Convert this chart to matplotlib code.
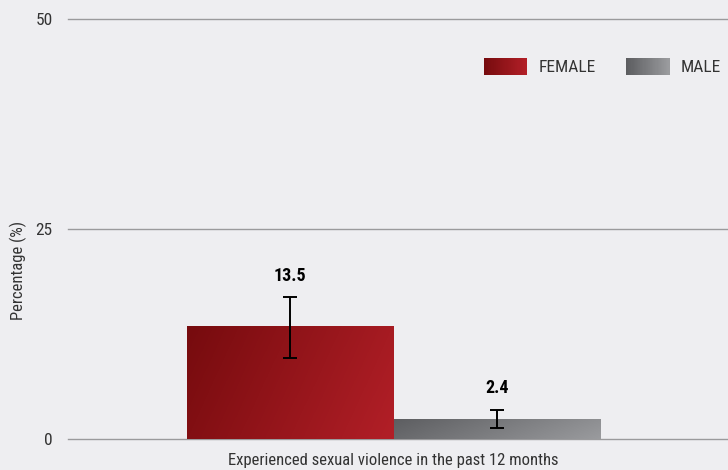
import numpy as np
import matplotlib
matplotlib.use("Agg")
import matplotlib.pyplot as plt
from matplotlib.patches import Rectangle
from matplotlib.colors import LinearSegmentedColormap

plt.rcParams['font.family'] = ['Roboto Condensed', 'DejaVu Sans']
plt.rcParams['font.weight'] = 400

categories = ["Experienced sexual violence in the past 12 months"]
series = ["FEMALE", "MALE"]
values = [13.5, 2.4]
err_low = [9.7, 1.3]
err_high = [16.9, 3.5]
yticks = [0, 25, 50]

BG = "#eeeef1"
TXT = "#333333"
female_cmap = LinearSegmentedColormap.from_list("f", ["#760b0e", "#b21f27"])
male_cmap = LinearSegmentedColormap.from_list("m", ["#5c5d60", "#9a9b9e"])
cmaps = [female_cmap, male_cmap]

fig = plt.figure(figsize=(7.28, 4.70), dpi=100, facecolor=BG)
ax = fig.add_axes([68/728, 31/470, 660/728, 420/470], facecolor=BG)

width = 0.35
x0 = np.arange(len(categories))
offsets = [-width/2, width/2]

for i, (name, v, lo, hi) in enumerate(zip(series, values, err_low, err_high)):
    xc = x0[0] + offsets[i]
    bars = ax.bar(xc, v, width=width, color='none', edgecolor='none', zorder=2)
    b = bars[0]
    bx, by = b.get_x(), b.get_y()
    bw, bh = b.get_width(), b.get_height()
    gx = np.linspace(0, 1, 200)
    gy = np.linspace(0, 1, 100)
    GX, GY = np.meshgrid(gx, gy)
    grad = 0.8 * GX + 0.2 * GY
    im = ax.imshow(grad, cmap=cmaps[i], extent=[bx, bx + bw, by, by + bh],
                   aspect='auto', origin='upper', vmin=0, vmax=1, zorder=2)
    im.set_clip_path(b)
    ax.errorbar(xc, v, yerr=[[v - lo], [hi - v]], fmt='none', ecolor='black',
                elinewidth=1.4, capsize=5, capthick=1.4, zorder=3)
    ax.annotate(f"{v}", xy=(xc, hi), xytext=(0, 9), textcoords='offset points',
                ha='center', va='bottom', fontsize=13, fontweight='bold', color='black')

ax.set_xlim(-0.552, 0.567)
ax.set_ylim(0, 50)

for s in ax.spines.values():
    s.set_visible(False)
ax.set_yticks(yticks)
ax.set_yticklabels([str(t) for t in yticks])
ax.yaxis.grid(True, color='#9a9a9c', linewidth=1.0, zorder=0)
for gl in ax.get_ygridlines():
    gl.set_clip_on(False)
ax.set_axisbelow(True)
ax.tick_params(axis='y', length=0, pad=11, labelsize=12.5, labelcolor=TXT)
ax.set_xticks(x0)
ax.set_xticklabels(categories)
ax.tick_params(axis='x', length=0, pad=10, labelsize=12, labelcolor=TXT)

fig.text(18/728, 1 - 270/470, "Percentage (%)", rotation=90, ha='center', va='center',
         fontsize=12, color=TXT)

class GradHandler:
    def __init__(self, cmap):
        self.cmap = cmap
    def legend_artist(self, legend, orig_handle, fontsize, handlebox):
        xd, yd = -handlebox.xdescent, -handlebox.ydescent
        w, h = handlebox.width, handlebox.height
        n = 40
        r = None
        for k in range(n):
            r = Rectangle((xd + w * k / n, yd), w / n * 1.05, h,
                          facecolor=self.cmap(k / (n - 1)), edgecolor='none',
                          transform=handlebox.get_transform())
            handlebox.add_artist(r)
        return r

handles = [Rectangle((0, 0), 1, 1) for _ in series]
h0, h1 = handles
leg = ax.legend(handles, series, handler_map={h0: GradHandler(female_cmap), h1: GradHandler(male_cmap)},
                loc='upper right', bbox_to_anchor=((721 - 68) / 660, 1 - 39/420), ncol=2, frameon=False,
                fontsize=12.5, handlelength=2.5, handleheight=1.1, handletextpad=0.65,
                columnspacing=1.75, labelcolor=TXT, borderaxespad=0, borderpad=0)

fig.savefig("out.png", dpi=100, facecolor=BG)
